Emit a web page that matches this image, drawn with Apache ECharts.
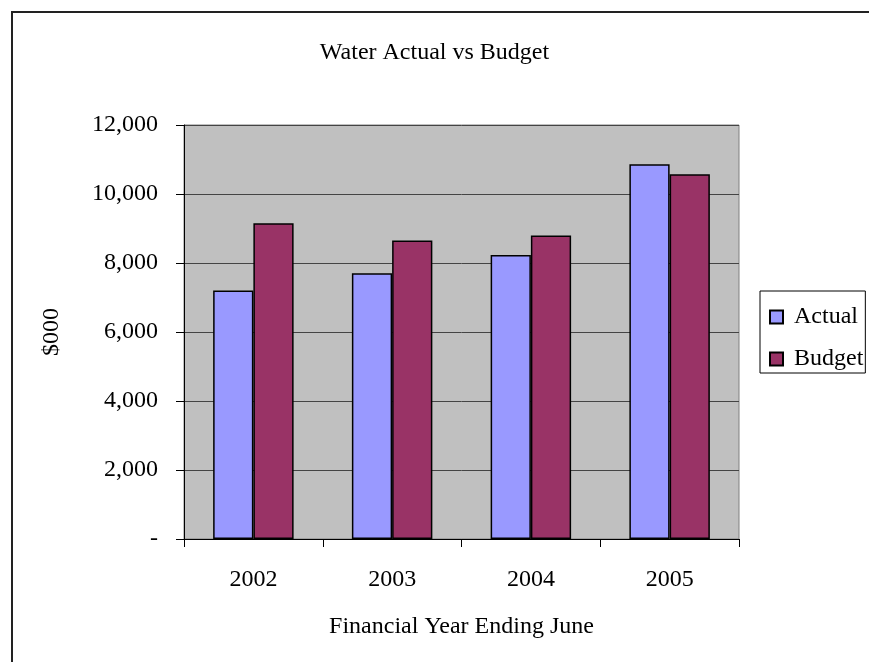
<!DOCTYPE html>
<html>
<head>
<meta charset="utf-8">
<script src="https://cdn.jsdelivr.net/npm/echarts@6/dist/echarts.min.js"></script>
<style>
  html, body { margin: 0; padding: 0; background: #fff; }
  #chart { width: 869px; height: 662px; }
</style>
</head>
<body>
<div id="chart"></div>
<script>
// Financial years and water spend in $000
const years = ['2002', '2003', '2004', '2005'];
const actual = [7200, 7700, 8230, 10860];
const budget = [9150, 8650, 8800, 10570];
const yTicks = [0, 2000, 4000, 6000, 8000, 10000, 12000];

const FONT = '"Liberation Serif", "DejaVu Serif", serif';
const FS = 24;

const chart = echarts.init(document.getElementById('chart'), null, { renderer: 'canvas' });

function fmtThousands(v) {
  if (v === 0) return '-';
  return v.toLocaleString('en-US');
}

chart.setOption({
  animation: false,
  backgroundColor: '#ffffff',
  title: {
    text: 'Water Actual vs Budget',
    left: 'center',
    top: 36,
    textStyle: { fontFamily: FONT, fontSize: FS, fontWeight: 'normal', color: '#000' }
  },
  graphic: [{
    type: 'rect',
    shape: { x: 12, y: 12, width: 900, height: 700 },
    style: { fill: null, stroke: '#222', lineWidth: 2 },
    silent: true
  }],
  legend: {
    orient: 'vertical',
    left: 760,
    top: 291,
    padding: [14, 2, 2, 9],
    itemGap: 18,
    itemWidth: 13,
    itemHeight: 13,
    icon: 'rect',
    borderColor: '#000',
    borderWidth: 1,
    backgroundColor: '#fff',
    textStyle: { fontFamily: FONT, fontSize: FS, color: '#000', padding: [0, 0, 0, 6] },
    data: ['Actual', 'Budget']
  },
  grid: {
    left: 184,
    right: 130,
    top: 125,
    bottom: 123,
    show: true,
    backgroundColor: '#C0C0C0',
    borderColor: '#808080',
    borderWidth: 1
  },
  xAxis: {
    type: 'category',
    data: years,
    name: 'Financial Year Ending June',
    nameLocation: 'middle',
    nameGap: 76,
    nameTextStyle: { fontFamily: FONT, fontSize: FS, color: '#000' },
    axisLine: { lineStyle: { color: '#000', width: 1 } },
    axisTick: { show: true, length: 8, lineStyle: { color: '#000' } },
    axisLabel: { fontFamily: FONT, fontSize: FS, color: '#000', margin: 29 }
  },
  yAxis: {
    type: 'value',
    min: yTicks[0],
    max: yTicks[yTicks.length - 1],
    interval: yTicks[1] - yTicks[0],
    name: '$000',
    nameLocation: 'middle',
    nameGap: 120,
    nameRotate: 90,
    nameTextStyle: { fontFamily: FONT, fontSize: FS, color: '#000' },
    axisLine: { show: true, lineStyle: { color: '#000', width: 1 } },
    axisTick: { show: true, length: 8, lineStyle: { color: '#000' } },
    axisLabel: { fontFamily: FONT, fontSize: FS, color: '#000', margin: 26, formatter: fmtThousands },
    splitLine: { show: true, lineStyle: { color: '#444', width: 1 } }
  },
  series: [
    {
      name: 'Actual',
      type: 'bar',
      data: actual,
      barGap: '0%',
      barCategoryGap: '42%',
      itemStyle: { color: '#9999FF', borderColor: '#000', borderWidth: 1.5 }
    },
    {
      name: 'Budget',
      type: 'bar',
      data: budget,
      barGap: '0%',
      barCategoryGap: '42%',
      itemStyle: { color: '#993366', borderColor: '#000', borderWidth: 1.5 }
    }
  ]
});
</script>
</body>
</html>
